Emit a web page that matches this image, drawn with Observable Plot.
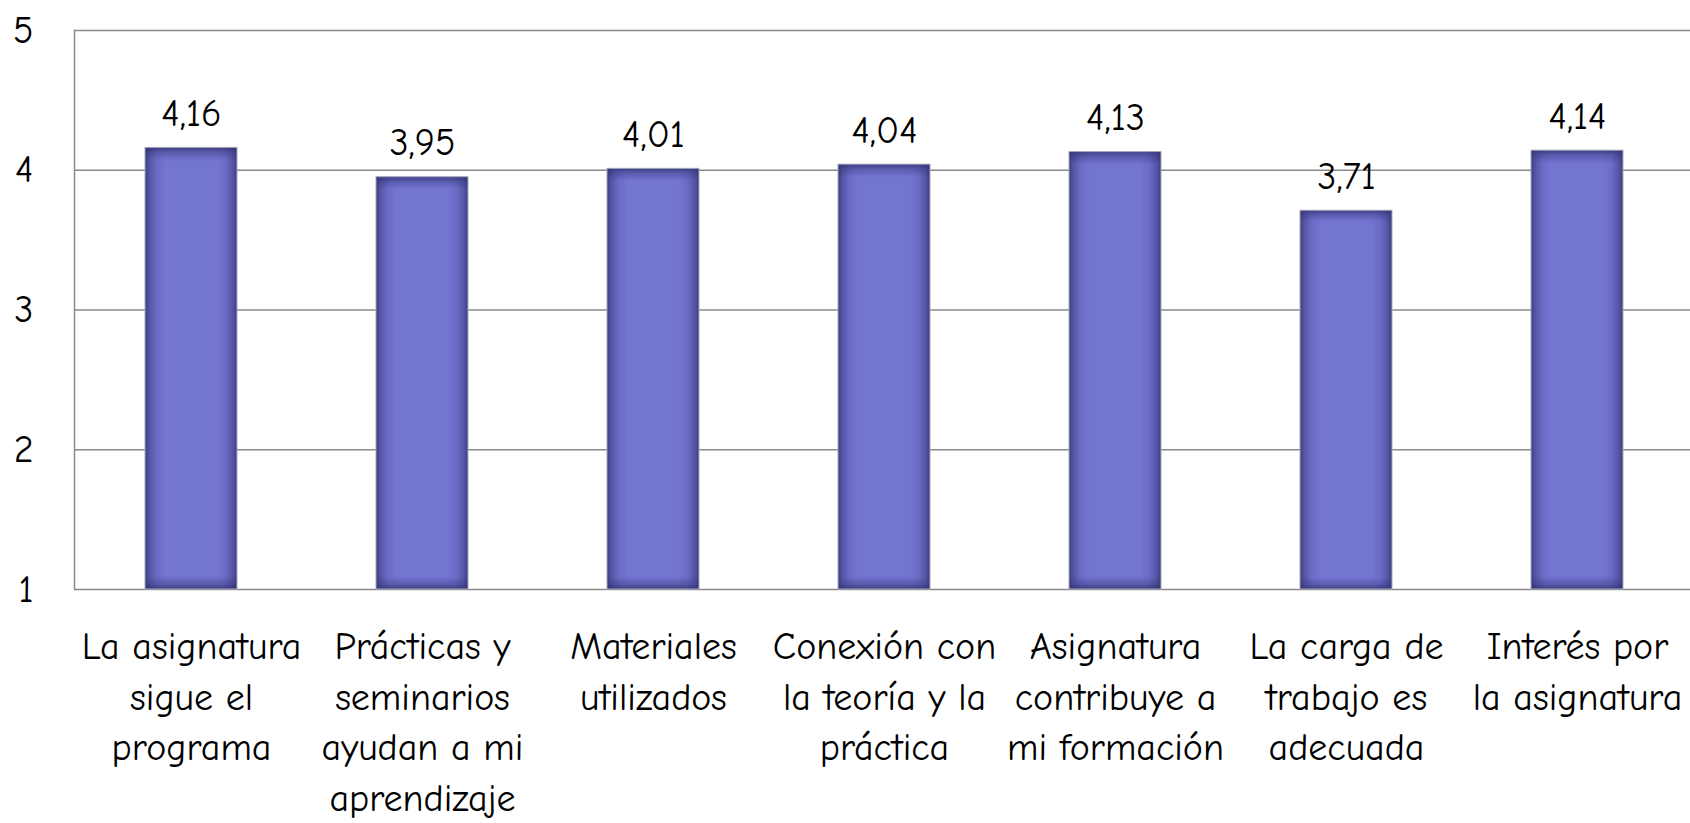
<!DOCTYPE html>
<html>
<head>
<meta charset="utf-8">
<script src="https://cdn.jsdelivr.net/npm/d3@7"></script>
<script src="https://cdn.jsdelivr.net/npm/@observablehq/plot@0.6"></script>
<style>
  html, body { margin: 0; padding: 0; background: #fff; }
  #chart svg { display: block; }
</style>
</head>
<body>
<div id="chart"></div>
<script>
const categories = [
  "La asignatura\nsigue el\nprograma",
  "Prácticas y\nseminarios\nayudan a mi\naprendizaje",
  "Materiales\nutilizados",
  "Conexión con\nla teoría y la\npráctica",
  "Asignatura\ncontribuye a\nmi formación",
  "La carga de\ntrabajo es\nadecuada",
  "Interés por\nla asignatura"
];
const values = [4.16, 3.95, 4.01, 4.04, 4.13, 3.71, 4.14];
const valueLabels = ["4,16", "3,95", "4,01", "4,04", "4,13", "3,71", "4,14"];
const yTicks = [1, 2, 3, 4, 5];

const data = categories.map((c, i) => ({cat: c, value: values[i], label: valueLabels[i]}));

const font = "'Comic Sans MS', 'Comic Neue', 'DejaVu Sans', sans-serif";
const fs = 38;

const chart = Plot.plot({
  width: 1690,
  height: 823,
  marginLeft: 74,
  marginTop: 30,
  marginBottom: 234,
  marginRight: 0,
  style: {fontFamily: font, fontSize: fs + "px", color: "#000", background: "#fff"},
  x: {domain: categories, range: [74, 1695], paddingInner: 0.6, paddingOuter: 0.3, label: null},
  y: {domain: [1, 5], label: null},
  marks: [
    Plot.gridY(yTicks, {stroke: "#8a8a8a", strokeOpacity: 1, strokeWidth: 1.5}),
    Plot.frame({anchor: "left", stroke: "#8a8a8a", strokeWidth: 1.5}),
    Plot.barY(data, {x: "cat", y1: 1, y2: "value", fill: "url(#barH)"}),
    Plot.barY(data, {x: "cat", y1: 1, y2: "value", fill: "url(#barV)", stroke: "#a8a8bc", strokeWidth: 1}),
    Plot.text(data, {x: "cat", y: "value", text: "label", lineAnchor: "bottom", dy: -22, fontSize: fs, fill: "#000"}),
    Plot.axisY(yTicks, {tickSize: 0, tickPadding: 41, fontSize: fs, tickFormat: d => String(d), textAnchor: "end"}),
    Plot.axisX({tickSize: 0, tickPadding: 33, fontSize: fs, lineHeight: 1.34, lineAnchor: "top"})
  ]
});

// shading gradients for the bars (dark inner edges, lighter centre)
const ns = "http://www.w3.org/2000/svg";
function el(name, attrs, parent) {
  const e = document.createElementNS(ns, name);
  for (const k in attrs) e.setAttribute(k, attrs[k]);
  if (parent) parent.appendChild(e);
  return e;
}
const defs = el("defs", {});
const gh = el("linearGradient", {id: "barH", x1: "0", x2: "1", y1: "0", y2: "0"}, defs);
[[0, "#3e3e80"], [0.05, "#5656a8"], [0.13, "#6c6cc6"], [0.22, "#7474d1"], [0.78, "#7474d1"], [0.87, "#6c6cc6"], [0.95, "#5656a8"], [1, "#3e3e80"]]
  .forEach(([o, c]) => el("stop", {offset: o, "stop-color": c}, gh));
const gv = el("linearGradient", {id: "barV", x1: "0", x2: "0", y1: "0", y2: "1"}, defs);
[[0, "#2e2e70", 0.75], [0.012, "#2e2e70", 0.35], [0.03, "#2e2e70", 0], [0.97, "#2e2e70", 0], [0.988, "#2e2e70", 0.35], [1, "#2e2e70", 0.75]]
  .forEach(([o, c, a]) => el("stop", {offset: o, "stop-color": c, "stop-opacity": a}, gv));
chart.insertBefore(defs, chart.firstChild);

document.getElementById("chart").appendChild(chart);
</script>
</body>
</html>
